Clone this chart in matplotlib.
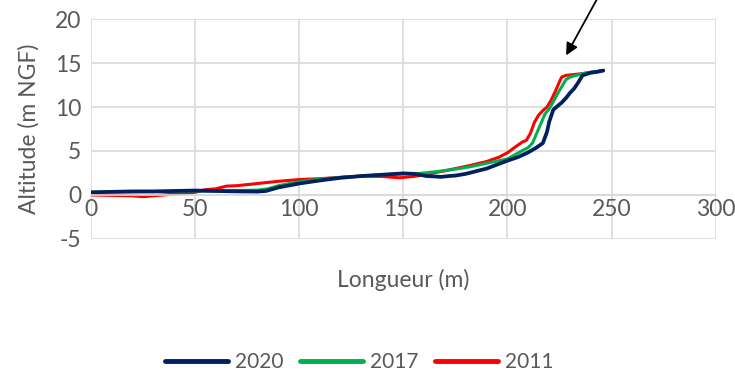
import matplotlib.pyplot as plt

plt.rcParams['font.family'] = ['Lato', 'DejaVu Sans']
plt.rcParams['axes.unicode_minus'] = False

# profile 2020
x_2020 = [0, 10, 20, 30, 40, 50, 60, 70, 80, 84, 90, 100, 110, 120, 130, 140, 150, 155, 158,
          161, 165, 168, 172, 175, 180, 185, 190, 195, 200, 205, 210, 214, 217, 219, 220, 222,
          224, 226, 228, 230, 232, 234, 236, 238, 240, 243, 246]
y_2020 = [0.3, 0.35, 0.4, 0.4, 0.45, 0.5, 0.45, 0.4, 0.38, 0.45, 0.85, 1.3, 1.65, 1.95, 2.15,
          2.3, 2.45, 2.4, 2.3, 2.15, 2.1, 2.05, 2.15, 2.2, 2.4, 2.7, 3.0, 3.45, 3.9, 4.3, 4.85,
          5.4, 5.9, 7.2, 8.3, 9.7, 10.1, 10.5, 11.0, 11.6, 12.1, 12.8, 13.6, 13.75, 13.9, 14.0, 14.15]

# profile 2017
x_2017 = [0, 20, 40, 50, 60, 70, 80, 85, 90, 100, 110, 120, 130, 140, 150, 158, 166, 174, 182,
          190, 196, 200, 206, 210, 212, 214, 216, 218, 220, 222, 224, 226, 228, 230, 233, 236,
          240, 246]
y_2017 = [0.3, 0.35, 0.4, 0.45, 0.45, 0.5, 0.55, 0.7, 1.05, 1.5, 1.8, 2.0, 2.15, 2.3, 2.4, 2.45,
          2.65, 2.9, 3.2, 3.6, 3.9, 4.1, 4.9, 5.4, 5.9, 7.0, 8.1, 9.2, 9.8, 10.6, 11.5, 12.3,
          13.1, 13.4, 13.6, 13.8, 13.95, 14.15]

# profile 2011
x_2011 = [0, 10, 20, 25, 30, 40, 50, 55, 60, 65, 70, 80, 90, 100, 110, 120, 130, 140, 148, 155,
          160, 170, 182, 190, 196, 200, 204, 207, 209, 211, 213, 215, 217, 219, 221, 223, 225,
          226, 228, 232, 236, 240, 245]
y_2011 = [0.0, -0.05, -0.1, -0.2, -0.1, 0.1, 0.3, 0.6, 0.7, 1.0, 1.05, 1.3, 1.55, 1.75, 1.85,
          2.0, 2.15, 2.1, 1.95, 2.1, 2.3, 2.75, 3.35, 3.8, 4.3, 4.8, 5.5, 6.0, 6.2, 7.0, 8.3,
          9.1, 9.6, 10.0, 10.8, 11.8, 12.9, 13.4, 13.6, 13.7, 13.8, 13.95, 14.1]

grey = '#595959'
grid_col = '#d9d9d9'
fs = 16.5

fig = plt.figure(figsize=(7.35, 3.75), dpi=100)
ax = fig.add_axes([0.1238, 0.363, 0.850, 0.586])

l11, = ax.plot(x_2011, y_2011, color='#FF0000', lw=2.2, solid_capstyle='round')
l17, = ax.plot(x_2017, y_2017, color='#00B050', lw=2.2, solid_capstyle='round')
l20, = ax.plot(x_2020, y_2020, color='#002060', lw=2.7, solid_capstyle='round')

ax.set_xlim(0, 300)
ax.set_ylim(-5, 20)
ax.set_xticks(range(0, 301, 50))
ax.set_yticks(range(-5, 21, 5))
ax.grid(True, color=grid_col, lw=1.2)
ax.set_axisbelow(True)
for s in ['top', 'right', 'left']:
    ax.spines[s].set_visible(False)
ax.spines['bottom'].set_position(('data', 0))
ax.spines['bottom'].set_color(grid_col)
ax.spines['bottom'].set_linewidth(1.2)
ax.tick_params(length=0, labelsize=fs, labelcolor=grey)
ax.tick_params(axis='x', pad=3)
ax.tick_params(axis='y', pad=7)

ax.set_ylabel('Altitude (m NGF)', fontsize=fs, color=grey, labelpad=11)
fig.text(0.5 * (0.1238 + 0.974), 1 - 280 / 375, 'Longueur (m)', fontsize=fs, color=grey,
         ha='center', va='center')

ax.annotate('', xy=(227.5, 15.6), xytext=(243.5, 22.5),
            arrowprops=dict(arrowstyle='-|>', color='black', lw=1.3, mutation_scale=18),
            annotation_clip=False)

fig.legend([l20, l17, l11], ['2020', '2017', '2011'], loc='center', bbox_to_anchor=(0.489, 1 - 362 / 375),
           ncol=3, frameon=False, fontsize=15, labelcolor=grey, handlelength=3.0,
           columnspacing=0.8, handletextpad=0.35)
for h in fig.legends[0].legend_handles:
    h.set_linewidth(3.5)

fig.savefig('out.png', dpi=100)
